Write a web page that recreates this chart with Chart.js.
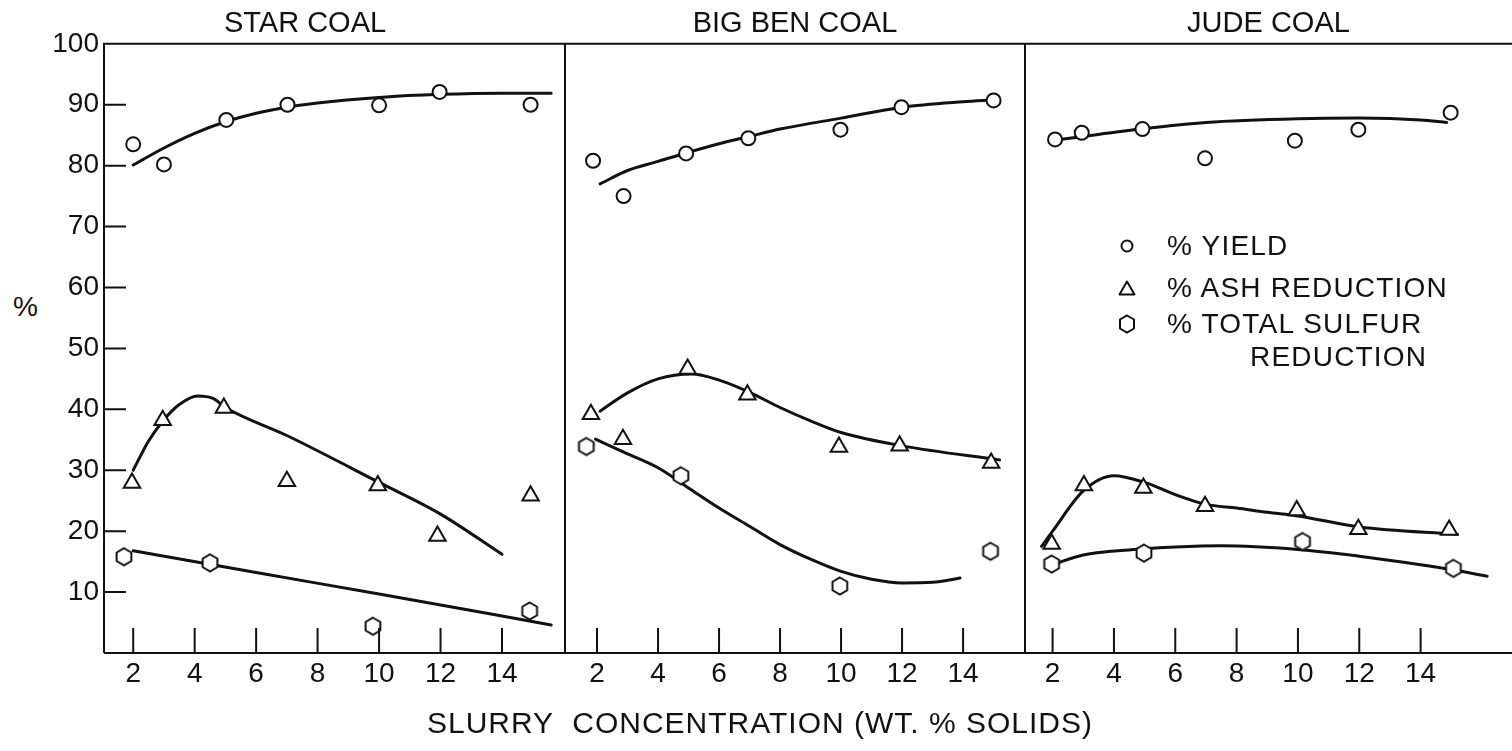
<!DOCTYPE HTML>
<html>
<head>
  <title>Slurry concentration - Star, Big Ben, Jude coal</title>
  <script src="https://cdn.jsdelivr.net/npm/chart.js"></script>
  <style>
    body { margin: 0; background: #fff; overflow: hidden; font-family: "Liberation Sans", Arial, sans-serif; color: #111; }
    canvas { position: absolute; top: 0; }
    .txt { position: absolute; white-space: pre; font-size: 28px; line-height: 28px; }
    .leg { letter-spacing: 1.2px; }
    .mark { position: absolute; }
    .xtitle { font-size: 30px; line-height: 30px; letter-spacing: 1px; transform: translateX(-50%); }
  </style>
</head>
<body>
  <canvas id="c1" width="520" height="751" style="left:45px"></canvas>
  <canvas id="c2" width="460" height="751" style="left:565px"></canvas>
  <canvas id="c3" width="487" height="751" style="left:1025px"></canvas>

  <div class="txt" style="left:13px; top:293px">%</div>

  <!-- legend -->
  <svg class="mark" style="left:1119px; top:238px" width="16" height="16"><circle cx="8" cy="8" r="5.5" fill="#fff" stroke="#111" stroke-width="2"/></svg>
  <div class="txt leg" style="left:1167px; top:232px">% YIELD</div>
  <svg class="mark" style="left:1118px; top:280px" width="18" height="16"><polygon points="9,1.5 16.5,14.5 1.5,14.5" fill="#fff" stroke="#111" stroke-width="2" stroke-linejoin="round"/></svg>
  <div class="txt leg" style="left:1167px; top:274px">% ASH REDUCTION</div>
  <svg class="mark" style="left:1118px; top:314px" width="18" height="20"><polygon points="9,1.5 16,5.5 16,14.5 9,18.5 2,14.5 2,5.5" fill="#fff" stroke="#111" stroke-width="2"/></svg>
  <div class="txt leg" style="left:1167px; top:310px">% TOTAL SULFUR</div>
  <div class="txt leg" style="left:1250px; top:343px">REDUCTION</div>

  <div class="txt xtitle" style="left:760px; top:708px">SLURRY  CONCENTRATION (WT. % SOLIDS)</div>

  <script>
    const ink = '#111';
    const fontFamily = '"Liberation Sans", Arial, sans-serif';

    const panelTitles = ['STAR COAL', 'BIG BEN COAL', 'JUDE COAL'];
    const xTicks = [2, 4, 6, 8, 10, 12, 14];
    const yTicks = [10, 20, 30, 40, 50, 60, 70, 80, 90, 100];
    const yTickMarks = [10, 20, 30, 40, 50, 60, 70, 80, 90];

    // STAR COAL - measured points
    const starYieldX = [2, 3, 5.03, 7.02, 10, 11.97, 14.93];
    const starYield = [83.5, 80.2, 87.5, 90.0, 89.9, 92.1, 90.0];
    const starAshX = [1.96, 2.96, 4.95, 7.0, 9.96, 11.9, 14.93];
    const starAsh = [27.9, 38.2, 40.2, 28.2, 27.5, 19.2, 25.8];
    const starSulfurX = [1.7, 4.5, 9.8, 14.9];
    const starSulfur = [15.8, 14.8, 4.4, 6.9];
    // STAR COAL - hand drawn curves
    const starYieldFitX = [2, 3, 4, 5, 6, 7, 8, 10, 12, 14, 15.6];
    const starYieldFit = [80.1, 82.9, 85.3, 87.2, 88.6, 89.6, 90.3, 91.2, 91.7, 91.9, 91.9];
    const starAshFitX = [2, 2.5, 3, 3.5, 4.1, 4.6, 5, 7, 10, 12, 14];
    const starAshFit = [30, 34.8, 38.3, 40.8, 42.2, 41.8, 40.3, 35.7, 28, 22.8, 16.2];
    const starSulfurFitX = [2, 6, 10, 15.6];
    const starSulfurFit = [16.8, 13.2, 9.7, 4.6];

    // BIG BEN COAL
    const benYieldX = [1.87, 2.87, 4.92, 6.96, 9.98, 11.98, 15.0];
    const benYield = [80.8, 75.0, 82.0, 84.5, 85.9, 89.6, 90.7];
    const benAshX = [1.8, 2.85, 4.97, 6.93, 9.93, 11.92, 14.92];
    const benAsh = [39.2, 35.1, 46.6, 42.4, 33.8, 34.0, 31.2];
    const benSulfurX = [1.65, 4.75, 9.96, 14.9];
    const benSulfur = [33.9, 29.1, 11.0, 16.7];
    const benYieldFitX = [2.1, 3, 4, 5, 6, 7, 8, 10, 12, 14, 15];
    const benYieldFit = [77.0, 79.2, 80.7, 82.2, 83.6, 84.8, 86.0, 87.8, 89.6, 90.5, 90.8];
    const benAshFitX = [2.1, 3, 4, 5.1, 6, 7, 8, 9, 10, 12, 15.2];
    const benAshFit = [39.7, 42.7, 45.0, 45.8, 44.8, 42.8, 40.3, 38.1, 36.2, 34.0, 31.7];
    const benSulfurFitX = [1.95, 3, 4, 5, 6, 7, 8, 9, 10, 11, 12, 13, 13.9];
    const benSulfurFit = [35.1, 32.7, 30.4, 27.1, 23.8, 20.8, 17.8, 15.4, 13.4, 12.1, 11.5, 11.6, 12.3];

    // JUDE COAL
    const judeYieldX = [2.08, 2.95, 4.93, 6.97, 9.9, 11.97, 14.98];
    const judeYield = [84.3, 85.4, 86.0, 81.2, 84.1, 85.9, 88.7];
    const judeAshX = [1.97, 3.02, 4.96, 6.97, 9.96, 11.97, 14.93];
    const judeAsh = [17.9, 27.5, 27.1, 24.1, 23.4, 20.3, 20.2];
    const judeSulfurX = [1.97, 4.98, 10.15, 15.07];
    const judeSulfur = [14.6, 16.4, 18.3, 13.9];
    const judeYieldFitX = [2.13, 3, 5, 7, 10, 12, 14, 14.85];
    const judeYieldFit = [84.2, 84.8, 86.1, 87.1, 87.7, 87.8, 87.5, 87.1];
    const judeAshFitX = [1.64, 2, 3, 4, 5, 6, 7, 8, 9, 10, 12, 15.2];
    const judeAshFit = [17.5, 20.0, 26.6, 29.1, 28.0, 26.0, 24.4, 23.8, 23.1, 22.5, 20.7, 19.5];
    const judeSulfurFitX = [2, 3, 5, 6, 7.5, 10, 12, 14, 15, 16.17];
    const judeSulfurFit = [14.5, 16.1, 17.1, 17.4, 17.6, 17.0, 15.9, 14.5, 13.7, 12.6];

    const toXY = (xs, ys) => xs.map((x, i) => ({ x: x, y: ys[i] }));

    // hexagon marker for sulfur points
    const hex = document.createElement('canvas');
    hex.width = 22; hex.height = 22;
    (function () {
      const g = hex.getContext('2d');
      g.beginPath();
      for (let k = 0; k < 6; k++) {
        const a = -Math.PI / 2 + k * Math.PI / 3;
        const px = 11 + 8.5 * Math.cos(a), py = 11 + 8.5 * Math.sin(a);
        k ? g.lineTo(px, py) : g.moveTo(px, py);
      }
      g.closePath();
      g.fillStyle = '#fff'; g.fill();
      g.strokeStyle = ink; g.lineWidth = 2; g.stroke();
    })();

    // box round the plot area plus ticks that point inward
    const frame = {
      id: 'frame',
      afterDatasetsDraw(chart, args, opts) {
        const { ctx, chartArea: a, scales: { x, y } } = chart;
        ctx.save();
        ctx.strokeStyle = ink;
        ctx.lineWidth = 2;
        ctx.beginPath();
        if (opts.right) {
          ctx.moveTo(a.right, a.top); ctx.lineTo(a.right, a.bottom);
        }
        ctx.moveTo(a.left, a.bottom); ctx.lineTo(a.left, a.top); ctx.lineTo(chart.width, a.top);
        ctx.moveTo(a.left, a.bottom); ctx.lineTo(chart.width, a.bottom);
        xTicks.forEach(v => {
          const px = x.getPixelForValue(v);
          ctx.moveTo(px, a.bottom); ctx.lineTo(px, a.bottom - 25);
        });
        if (opts.yMarks) {
          yTickMarks.forEach(v => {
            const py = y.getPixelForValue(v);
            ctx.moveTo(a.left, py); ctx.lineTo(a.left + 22, py);
          });
        }
        ctx.stroke();
        ctx.restore();
      }
    };

    function points(xs, ys, style, r) {
      return {
        data: toXY(xs, ys), pointStyle: style, pointRadius: r,
        pointBorderWidth: 2, pointBorderColor: ink, pointBackgroundColor: '#fff',
        showLine: false, order: 0
      };
    }
    function curve(xs, ys) {
      return {
        data: toXY(xs, ys), showLine: true, pointRadius: 0,
        borderColor: ink, borderWidth: 3, cubicInterpolationMode: 'monotone',
        borderCapStyle: 'round', order: 1
      };
    }

    function makePanel(id, title, xMin, xMax, showY, right, sets) {
      const tickFont = { family: fontFamily, size: 28 };
      return new Chart(document.getElementById(id), {
        type: 'scatter',
        data: { datasets: sets },
        options: {
          responsive: false,
          animation: false,
          events: [],
          layout: { padding: 0, autoPadding: false },
          plugins: {
            legend: { display: false },
            tooltip: { enabled: false },
            title: {
              display: true, text: title, color: ink,
              font: { family: fontFamily, size: 29, weight: 'normal', lineHeight: 1.2 },
              padding: { top: 7, bottom: 2 }
            },
            frame: { yMarks: showY, right: right }
          },
          scales: {
            x: {
              type: 'linear', min: xMin, max: xMax,
              afterBuildTicks: s => { s.ticks = xTicks.map(v => ({ value: v })); },
              afterFit: s => { s.height = 98; s.paddingLeft = 0; s.paddingRight = 0; },
              grid: { display: false, drawTicks: false },
              border: { display: false },
              ticks: { font: tickFont, color: ink, padding: 4, maxRotation: 0, autoSkip: false }
            },
            y: {
              display: showY, min: 0, max: 100,
              afterBuildTicks: s => { s.ticks = yTicks.map(v => ({ value: v })); },
              afterFit: s => { s.width = showY ? 59 : 0; },
              grid: { display: false, drawTicks: false },
              border: { display: false },
              ticks: { font: tickFont, color: ink, padding: 5 }
            }
          }
        },
        plugins: [frame]
      });
    }

    makePanel('c1', panelTitles[0], 1.05, 16.05, true, true, [
      points(starYieldX, starYield, 'circle', 7),
      points(starAshX, starAsh, 'triangle', 9.5),
      points(starSulfurX, starSulfur, hex, 9),
      curve(starYieldFitX, starYieldFit),
      curve(starAshFitX, starAshFit),
      curve(starSulfurFitX, starSulfurFit)
    ]);
    makePanel('c2', panelTitles[1], 0.95, 16.03, false, true, [
      points(benYieldX, benYield, 'circle', 7),
      points(benAshX, benAsh, 'triangle', 9.5),
      points(benSulfurX, benSulfur, hex, 9),
      curve(benYieldFitX, benYieldFit),
      curve(benAshFitX, benAshFit),
      curve(benSulfurFitX, benSulfurFit)
    ]);
    makePanel('c3', panelTitles[2], 1.1, 16.98, false, false, [
      points(judeYieldX, judeYield, 'circle', 7),
      points(judeAshX, judeAsh, 'triangle', 9.5),
      points(judeSulfurX, judeSulfur, hex, 9),
      curve(judeYieldFitX, judeYieldFit),
      curve(judeAshFitX, judeAshFit),
      curve(judeSulfurFitX, judeSulfurFit)
    ]);
  </script>
</body>
</html>
